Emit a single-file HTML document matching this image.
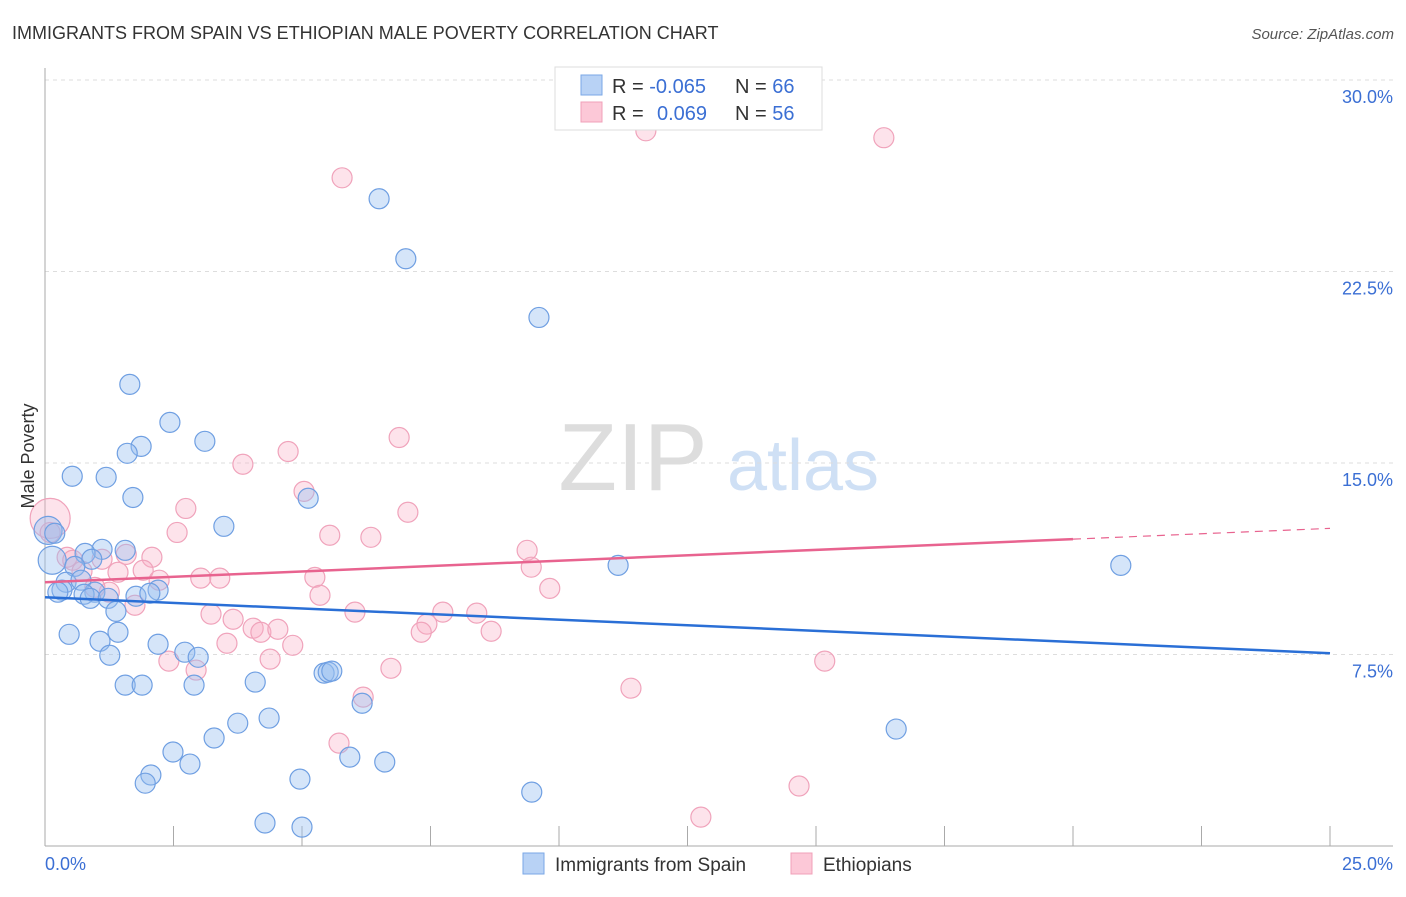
<!DOCTYPE html>
<html><head><meta charset="utf-8"><style>
body{margin:0;background:#fff;font-family:"Liberation Sans",sans-serif;}
svg text{font-family:"Liberation Sans",sans-serif;}
</style></head><body>
<svg width="1406" height="892" xmlns="http://www.w3.org/2000/svg">
<text x="12" y="39" font-size="18" fill="#333">IMMIGRANTS FROM SPAIN VS ETHIOPIAN MALE POVERTY CORRELATION CHART</text>
<text x="1394" y="39" font-size="15" fill="#555" text-anchor="end" font-style="italic">Source: ZipAtlas.com</text>
<g>
<text x="633" y="490" font-size="96" font-family="Liberation Serif" fill="#ddd" text-anchor="middle">ZIP</text>
<text x="803" y="490" font-size="72" fill="#cfe0f5" text-anchor="middle">atlas</text>
</g>
<g id="grid"></g>
<g id="axes"></g>
<g id="marks"></g>
<text transform="translate(34,456) rotate(-90)" font-size="18" fill="#333" text-anchor="middle">Male Poverty</text>
<g>
<rect x="555" y="67" width="267" height="63" fill="#fff" stroke="#ddd"/>
<rect x="581" y="75" width="21" height="20" fill="#b8d2f5" stroke="#7aa7e6"/>
<rect x="581" y="102" width="21" height="20" fill="#fcc8d7" stroke="#f0a0b8"/>
<text x="612" y="93" font-size="20" fill="#333">R = <tspan fill="#3b6fd4">-0.065</tspan></text>
<text x="735" y="93" font-size="20" fill="#333">N = <tspan fill="#3b6fd4">66</tspan></text>
<text x="612" y="120" font-size="20" fill="#333">R = <tspan fill="#3b6fd4" x="657">0.069</tspan></text>
<text x="735" y="120" font-size="20" fill="#333">N = <tspan fill="#3b6fd4">56</tspan></text>
</g>
<g>
<rect x="523" y="853" width="21" height="21" fill="#b8d2f5" stroke="#7aa7e6"/>
<text x="555" y="871" font-size="19" fill="#333">Immigrants from Spain</text>
<rect x="791" y="853" width="21" height="21" fill="#fcc8d7" stroke="#f0a0b8"/>
<text x="823" y="871" font-size="19" fill="#333">Ethiopians</text>
</g>
</svg>
<script>
const yTicks=[7.5,15,22.5,30];
const yTickLabels=["7.5%","15.0%","22.5%","30.0%"];
const xTickCount=10;
const blueX=[6.50,7.02,9.61,1.65,2.43,3.11,1.87,1.60,0.53,1.19,1.71,5.12,3.48,0.06,0.19,0.14,1.56,1.11,0.78,0.91,0.58,0.41,0.70,0.33,0.25,0.97,0.76,0.88,1.23,2.20,1.77,2.04,1.38,1.42,0.47,1.07,1.26,2.72,2.20,2.98,2.90,1.56,1.89,4.09,5.43,5.51,5.58,6.17,3.75,4.36,3.29,2.49,2.82,2.06,1.95,4.96,5.93,6.61,9.47,4.28,5.00,11.15,20.93,16.56];
const blueY=[25.35,23.00,20.70,18.08,16.59,15.85,15.65,15.38,14.48,14.44,13.65,13.62,12.52,12.36,12.25,11.19,11.58,11.62,11.46,11.23,10.95,10.33,10.41,10.02,9.94,9.94,9.86,9.70,9.70,10.02,9.78,9.90,9.19,8.37,8.29,8.02,7.47,7.59,7.90,7.39,6.30,6.30,6.30,6.42,6.77,6.81,6.85,5.59,4.81,5.01,4.23,3.68,3.21,2.78,2.46,2.62,3.48,3.29,2.11,0.90,0.74,10.99,10.99,4.58];
const blueR=[10,10,10,10,10,10,10,10,10,10,10,10,10,14,10,14,10,10,10,10,10,10,10,10,10,10,10,10,10,10,10,10,10,10,10,10,10,10,10,10,10,10,10,10,10,10,10,10,10,10,10,10,10,10,10,10,10,10,10,10,10,10,10,10];
const pinkX=[11.69,16.32,5.78,6.89,4.73,3.85,5.04,2.74,7.06,2.57,5.54,6.34,9.38,9.46,9.82,0.10,0.10,0.43,0.54,1.11,1.58,2.08,1.42,1.91,2.22,0.72,1.25,0.97,1.75,3.03,3.40,5.25,5.35,3.23,3.66,4.05,4.20,4.53,3.54,4.82,6.03,7.74,8.40,7.43,7.32,8.68,2.41,2.94,4.38,6.73,6.19,5.72,15.17,11.40,14.67,12.76];
const pinkY=[28.01,27.74,26.17,16.00,15.45,14.95,13.89,13.22,13.07,12.28,12.17,12.09,11.58,10.92,10.09,12.83,12.28,11.31,11.19,11.23,11.42,11.31,10.72,10.80,10.41,10.76,9.94,10.13,9.43,10.49,10.49,10.52,9.82,9.08,8.88,8.53,8.37,8.49,7.94,7.86,9.16,9.16,9.12,8.69,8.37,8.41,7.24,6.89,7.32,6.96,5.83,4.03,7.24,6.18,2.35,1.13];
const blueTrend=[9.74,7.55];
const pinkTrend=[10.33,12.44];
const pinkSolidEnd=20;

const X0=45,X1=1330,Y0=846,Y30=80;
const sx=v=>X0+(X1-X0)*v/25;
const sy=v=>Y0-(Y0-Y30)*v/30;
const NS="http://www.w3.org/2000/svg";
function mk(tag,attrs,parent){const e=document.createElementNS(NS,tag);for(const k in attrs)e.setAttribute(k,attrs[k]);parent.appendChild(e);return e;}
const grid=document.getElementById('grid'),axes=document.getElementById('axes'),marks=document.getElementById('marks');
yTicks.forEach((t,i)=>{
  const l=mk('line',{x1:X0,x2:1393,y1:sy(t),y2:sy(t),stroke:'#ddd','stroke-dasharray':'4,4'},grid);
  
  
  const tx=mk('text',{x:1393,y:sy(t)+23,'font-size':18,fill:'#3b6fd4','text-anchor':'end'},axes);
  tx.textContent=yTickLabels[i];
  
  
});
const ya=mk('line',{x1:X0,x2:X0,y1:68,y2:Y0,stroke:'#aaa'},axes);


const xa=mk('line',{x1:X0,x2:1393,y1:Y0,y2:Y0,stroke:'#aaa'},axes);


for(let i=1;i<=xTickCount;i++){
  const v=25*i/xTickCount;
  const t=mk('line',{x1:sx(v),x2:sx(v),y1:826,y2:Y0,stroke:'#aaa'},axes);
  
  
}
const xl0=mk('text',{x:45,y:870,'font-size':18,fill:'#3b6fd4'},axes);xl0.textContent='0.0%';


const xl1=mk('text',{x:1393,y:870,'font-size':18,fill:'#3b6fd4','text-anchor':'end'},axes);xl1.textContent='25.0%';



pinkX.forEach((x,i)=>{
  const c=mk('circle',{cx:sx(x),cy:sy(pinkY[i]),r:i==15?20:10,fill:'rgba(248,175,198,0.35)',stroke:'#f0a3bb','stroke-width':1.2},marks);
  
  
});
blueX.forEach((x,i)=>{
  const c=mk('circle',{cx:sx(x),cy:sy(blueY[i]),r:blueR[i],fill:'rgba(150,190,240,0.4)',stroke:'#6f9fe2','stroke-width':1.2},marks);
  
  
});
const bt=mk('line',{x1:sx(0),y1:sy(blueTrend[0]),x2:sx(25),y2:sy(blueTrend[1]),stroke:'#2a6fd6','stroke-width':2.5},marks);


const pm=pinkTrend[0]+(pinkTrend[1]-pinkTrend[0])*pinkSolidEnd/25;
const pt=mk('line',{x1:sx(0),y1:sy(pinkTrend[0]),x2:sx(pinkSolidEnd),y2:sy(pm),stroke:'#e8638f','stroke-width':2.5},marks);


const pd=mk('line',{x1:sx(pinkSolidEnd),y1:sy(pm),x2:sx(25),y2:sy(pinkTrend[1]),stroke:'#e8638f','stroke-width':1.2,'stroke-dasharray':'8,6'},marks);


</script>
</body></html>
